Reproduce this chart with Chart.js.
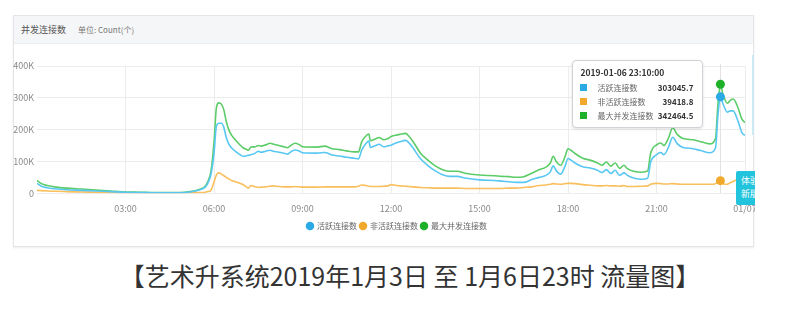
<!DOCTYPE html>
<html><head><meta charset="utf-8">
<script src="https://cdn.jsdelivr.net/npm/chart.js@4/dist/chart.umd.min.js"></script>
<style>
body{margin:0;width:800px;height:315px;background:#fff;position:relative;overflow:hidden;font-family:"Noto Sans CJK SC","Noto Sans",sans-serif;}
#panel{position:absolute;left:13px;top:15px;width:741px;height:232px;border:1px solid #e3e5e8;box-sizing:border-box;box-shadow:0 1px 2px rgba(0,0,0,0.08);overflow:hidden;}
#hdr{position:absolute;left:0;top:0;right:0;height:27px;background:#f5f6f8;border-bottom:1px solid #eaecef;}
#hdr .t{position:absolute;left:7px;top:7px;font-size:9px;color:#555;}
#hdr .u{position:absolute;left:64px;top:8px;font-size:8px;color:#777;}
#wrap{position:absolute;left:0;top:45px;width:794px;height:199px;}
#cover{position:absolute;left:755px;top:43px;width:45px;height:203px;background:#fff;}
#tip{position:absolute;background:#fff;border:1px solid #cfd2d6;border-radius:4px;box-shadow:0 1px 3px rgba(0,0,0,0.12);font-size:8px;color:#333;padding:5px 9px 5px 7px;box-sizing:border-box;opacity:0;white-space:nowrap;}
#tip .ti{font-weight:bold;margin-bottom:2px;font-size:8.5px;}
#tip .r{display:flex;align-items:center;height:14px;}
#tip .sq{width:7px;height:7px;margin-right:10px;flex:none;}
#tip .n{color:#666;flex:1;}
#tip .v{font-weight:bold;text-align:right;margin-left:4px;}
#badge{position:absolute;left:736px;top:171px;width:19px;height:34px;overflow:hidden;}
#badge div{position:absolute;left:0;top:0;width:40px;height:34px;background:#22c3dc;border-radius:2px;color:#fff;font-size:9px;line-height:13px;padding:3px 0 0 5px;box-sizing:border-box;}
#sbar{position:absolute;left:752px;top:55px;width:2px;height:80px;background:#cde9f4;}
#cap{position:absolute;left:0;width:820px;top:257px;text-align:center;font-size:25px;color:#333;}
</style></head>
<body>
<div id="panel"><div id="hdr"><span class="t">并发连接数</span><span class="u">单位: Count(个)</span></div></div>
<div id="wrap"><canvas id="c" width="794" height="199"></canvas></div>
<div id="cover"></div>
<div id="sbar"></div>
<div id="badge"><div>体验<br>新版</div></div>
<div id="tip"></div>
<div id="cap">【艺术升系统2019年1月3日 至 1月6日23时 流量图】</div>
<script>
const dateLabel = '2019-01-06';
const tooltipTime = '23:10';
const seriesNames = ['活跃连接数', '非活跃连接数', '最大并发连接数'];
const xTickLabels = {3:'03:00',6:'06:00',9:'09:00',12:'12:00',15:'15:00',18:'18:00',21:'21:00',24:'01/07'};
const yTickLabels = {0:'0',100000:'100K',200000:'200K',300000:'300K',400000:'400K'};
const times = ['00:00','00:09','00:21','00:36','01:00','01:30','02:00','02:30','03:00','03:30','04:00','04:30','05:00','05:15','05:30','05:42','05:48','05:54','06:00','06:05','06:10','06:15','06:20','06:25','06:30','06:36','06:45','06:54','07:00','07:06','07:10','07:15','07:24','07:30','07:36','07:45','07:54','08:00','08:12','08:24','08:30','08:36','08:45','08:54','09:00','09:30','09:45','10:00','10:15','10:30','10:45','10:54','11:00','11:09','11:15','11:18','11:27','11:36','11:45','11:54','12:00','12:09','12:18','12:30','12:36','12:45','13:00','13:15','13:30','13:45','14:00','14:15','14:30','15:00','15:30','15:45','16:00','16:15','16:30','16:45','17:00','17:15','17:24','17:30','17:36','17:45','17:54','18:00','18:06','18:15','18:30','18:45','19:00','19:09','19:18','19:27','19:36','19:45','19:54','20:00','20:15','20:30','20:42','20:48','21:00','21:09','21:15','21:24','21:33','21:42','21:54','22:15','22:30','22:48','23:00','23:05','23:10','23:15','23:24','23:30','23:36','23:45','23:54','24:00'];
const maxConn = [40000,30000,24000,20000,16000,13000,10000,7000,4000,3000,2000,2000,3000,6000,12000,22000,38000,70000,160000,270000,284000,280000,262000,225000,200000,182000,165000,150000,142000,138000,135000,145000,146000,150000,148000,152000,157000,155000,150000,145000,143000,150000,157000,152000,146000,145000,148000,140000,137000,133000,130000,130000,160000,180000,186000,165000,170000,175000,168000,172000,178000,182000,185000,188000,180000,162000,126000,104000,86000,74000,69000,69000,63000,57000,55000,53000,52000,50000,52000,62000,73000,82000,95000,116000,100000,88000,115000,140000,135000,124000,110000,104000,95000,88000,98000,85000,95000,78000,88000,78000,68000,66000,70000,125000,152000,158000,150000,172000,206000,185000,172000,168000,162000,155000,172000,280000,342464.5,312000,283000,292000,296000,272000,232000,222000];
const inactiveConn = [9000,8000,7000,6000,5000,4000,3000,2000,1000,1000,800,800,1000,1200,2000,3000,5000,10000,35000,58000,64000,60000,55000,50000,45000,40000,35000,30000,26000,20000,16000,24000,20000,18000,19000,20000,22000,23000,21000,20000,20000,20000,21000,20000,19000,19000,20000,20000,20000,20000,20000,22000,26000,24000,22000,21000,21000,21000,22000,23000,27000,25000,23000,22000,21000,20000,18000,17000,16000,16000,16000,16000,15000,15000,15000,15000,16000,16000,18000,20000,24000,26000,28000,30000,29000,28000,30000,31000,31000,30000,27000,25000,23000,23000,24000,23000,23000,22000,24000,21000,21000,22000,23000,28000,31000,30000,29000,29000,30000,29000,28000,28000,28000,28000,30000,35000,39418.8,30000,28000,33000,37000,42000,42000,40000];
const activeConn = [31000,22000,17000,14000,11000,9000,7000,5000,3000,2000,1200,1200,2000,4800,10000,19000,33000,60000,125000,212000,220000,220000,207000,175000,155000,142000,130000,120000,116000,118000,119000,121000,126000,132000,129000,132000,135000,132000,129000,125000,123000,130000,136000,132000,127000,126000,128000,120000,117000,113000,110000,108000,134000,156000,164000,144000,149000,154000,146000,149000,151000,157000,162000,166000,159000,142000,108000,87000,70000,58000,53000,53000,48000,42000,40000,38000,36000,34000,34000,42000,49000,56000,67000,86000,71000,60000,85000,109000,104000,94000,83000,79000,72000,65000,74000,62000,72000,56000,64000,57000,47000,44000,47000,97000,121000,128000,121000,143000,176000,156000,144000,140000,134000,127000,142000,245000,303045.7,282000,255000,259000,259000,230000,190000,182000];

const lineColors = ['#58c7f2', '#f8bf5c', '#5ccc68'];
const markColors = ['#2aa9e4', '#f0a92c', '#1fb02a'];

const hours = times.map(s => { const p = s.split(':'); return +p[0] + (+p[1]) / 60; });
const tipIdx = times.indexOf(tooltipTime);
const seriesData = [activeConn, inactiveConn, maxConn];

Chart.defaults.font.family = '"Noto Sans CJK SC","Noto Sans",sans-serif';

const guidePlugin = {
  id: 'guide',
  beforeDatasetsDraw(chart) {
    const x = chart.scales.x.getPixelForValue(hours[tipIdx]);
    const ctx = chart.ctx, a = chart.chartArea;
    ctx.save();
    ctx.strokeStyle = '#e2e2e2'; ctx.lineWidth = 1;
    ctx.beginPath(); ctx.moveTo(Math.round(x) + 0.5, a.top - 2); ctx.lineTo(Math.round(x) + 0.5, a.bottom); ctx.stroke();
    ctx.restore();
  }
};

function externalTip(context) {
  const tt = context.tooltip, el = document.getElementById('tip');
  if (tt.opacity === 0 || !tt.dataPoints) { el.style.opacity = 0; return; }
  let html = '<div class="ti">' + tt.title[0] + '</div>';
  tt.dataPoints.forEach(dp => {
    html += '<div class="r"><span class="sq" style="background:' + markColors[dp.datasetIndex] + '"></span><span class="n">' +
      dp.dataset.label + '</span><span class="v">' + dp.raw.y.toFixed(1) + '</span></div>';
  });
  el.innerHTML = html;
  el.style.width = '131px';
  const cv = context.chart.canvas.parentNode;
  const left = cv.offsetLeft + tt.caretX - 17 - 131;
  const top = cv.offsetTop + context.chart.chartArea.top - 6;
  el.style.left = left + 'px';
  el.style.top = top + 'px';
  el.style.opacity = 1;
}

const chart = new Chart(document.getElementById('c'), {
  type: 'line',
  data: {
    datasets: seriesData.map((arr, i) => ({
      label: seriesNames[i],
      data: arr.map((v, j) => ({ x: hours[j], y: v })),
      yAxisID: 'y',
      borderColor: lineColors[i],
      backgroundColor: markColors[i],
      borderWidth: 1.6,
      fill: false,
      cubicInterpolationMode: 'monotone',
      pointRadius: c => c.dataIndex === tipIdx ? 4.5 : 0,
      pointBackgroundColor: markColors[i],
      pointBorderWidth: 0,
      pointHoverRadius: 4.5,
      pointHoverBorderWidth: 0,
      pointHoverBackgroundColor: markColors[i]
    }))
  },
  options: {
    responsive: false,
    animation: false,
    events: [],
    layout: { padding: { top: 21, right: 0, bottom: 4, left: 0 } },
    interaction: { mode: 'index', intersect: false },
    scales: {
      x: {
        type: 'linear', min: 0, max: 24,
        border: { display: false },
        grid: { color: c => (c.tick && c.tick.value === 0) ? 'rgba(0,0,0,0)' : '#ececec', drawTicks: false },
        ticks: { stepSize: 3, autoSkip: false, maxRotation: 0, padding: 10, color: '#8a8a8a', font: { size: 9 },
          callback: v => xTickLabels[v] || '' },
        afterFit: s => { s.height -= 5; }
      },
      y: {
        min: 0, max: 400000,
        border: { display: false },
        grid: { color: '#ececec', drawTicks: false },
        ticks: { stepSize: 100000, padding: 3, color: '#8a8a8a', font: { size: 9 }, callback: v => yTickLabels[v] },
        afterFit: s => { s.width = 37; }
      },
      y2: {
        position: 'right', min: 0, max: 400000,
        border: { display: false },
        grid: { display: false, drawTicks: false },
        ticks: { display: false },
        afterFit: s => { s.width = 49; }
      }
    },
    plugins: {
      legend: {
        position: 'bottom',
        labels: { usePointStyle: true, pointStyle: 'circle', boxWidth: 6, boxHeight: 6, padding: 3, color: '#666', font: { size: 8 } }
      },
      tooltip: {
        enabled: false,
        external: externalTip,
        callbacks: { title: items => dateLabel + ' ' + times[items[0].dataIndex] + ':00' }
      }
    }
  },
  plugins: [guidePlugin]
});

const active = seriesData.map((a, i) => ({ datasetIndex: i, index: tipIdx }));
const pt = chart.getDatasetMeta(2).data[tipIdx];
chart.tooltip.setActiveElements(active, { x: pt.x, y: pt.y });
chart.update();
</script>
</body></html>
